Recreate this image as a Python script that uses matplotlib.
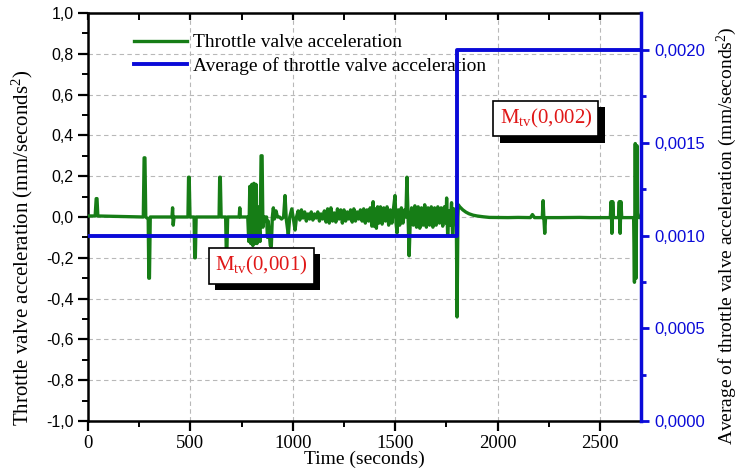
import matplotlib
matplotlib.use("Agg")
import matplotlib.pyplot as plt
import matplotlib.patheffects as pe
from matplotlib.ticker import FuncFormatter, MultipleLocator

plt.rcParams["font.family"] = ["Liberation Serif", "DejaVu Serif"]
plt.rcParams["mathtext.fontset"] = "custom"
plt.rcParams["mathtext.rm"] = "Liberation Serif"
plt.rcParams["mathtext.it"] = "Liberation Serif:italic"

# Throttle valve acceleration (mm/s^2) against time (s)
time_s = [
    0, 35, 40, 44, 48, 270, 274, 278, 282, 294, 297, 300, 304,
    410, 413, 416, 420, 488, 491, 494, 498, 518, 521, 524, 528,
    640, 643, 646, 650, 672, 675, 678, 682, 738, 741, 744, 780,
    785, 790, 795, 800, 805, 810, 815, 820, 825, 830, 840, 845, 850, 854, 860,
    872, 876, 880, 890, 895, 900, 905, 910, 918, 925, 935, 945, 955,
    962, 968, 978, 985, 995, 1003, 1011, 1018, 1026, 1034, 1042, 1050,
    1058, 1066, 1074, 1082, 1090, 1098, 1106, 1114, 1122, 1130, 1138, 1146,
    1154, 1162, 1170, 1178, 1186, 1194, 1202, 1210, 1218, 1226, 1234, 1242,
    1250, 1258, 1266, 1274, 1282, 1290, 1298, 1306, 1314, 1322, 1330, 1338,
    1346, 1354, 1362, 1370, 1378, 1386, 1392, 1397, 1402, 1408, 1414, 1420,
    1428, 1436, 1444, 1452, 1460, 1468, 1476, 1484, 1492, 1499, 1504, 1509,
    1515, 1522, 1530, 1538, 1546, 1552, 1557, 1562, 1568, 1573, 1580, 1588,
    1596, 1604, 1612, 1620, 1628, 1636, 1644, 1652, 1660, 1668, 1676, 1684,
    1692, 1700, 1708, 1716, 1724, 1732, 1740, 1748, 1751, 1756, 1762, 1768,
    1775, 1780, 1786, 1792, 1798, 1802, 1806, 1808, 1815, 1830, 1845, 1860,
    1880, 1900, 1930, 1960, 2050, 2100, 2160, 2170, 2180, 2218, 2222, 2226,
    2230, 2234, 2300, 2400, 2450, 2550, 2554, 2558, 2562, 2566, 2590, 2594,
    2598, 2602, 2606, 2664, 2668, 2672, 2676, 2680, 2684, 2690, 2700,
]
accel = [
    0.005, 0.005, 0.09, 0.09, 0.005, 0.0, 0.29, 0.29, 0.0, -0.01, -0.30, -0.30, 0.0,
    0.0, 0.045, -0.04, 0.0, 0.0, 0.195, 0.195, 0.0, 0.0, -0.2, -0.2, 0.0,
    0.0, 0.195, 0.195, 0.0, 0.0, -0.16, -0.17, 0.0, 0.0, 0.045, 0.0, 0.0,
    -0.12, 0.15, -0.13, 0.16, -0.14, 0.165, -0.13, 0.16, -0.13, 0.05, -0.12, 0.30, 0.30, -0.05, 0.0,
    0.0, -0.10, -0.02, -0.14, -0.145, 0.0, 0.045, -0.01, 0.03, 0.0, 0.0, -0.01, 0.0,
    0.105, -0.01, -0.088, 0.0, 0.04, -0.01, -0.064, 0.0, 0.03, -0.015, 0.035, -0.005,
    0.025, -0.02, 0.015, -0.01, 0.025, -0.015, 0.015, -0.005, 0.025, -0.02, 0.015, -0.01,
    0.03, -0.025, 0.04, -0.03, 0.045, -0.02, 0.02, -0.025, 0.04, -0.01, 0.035, -0.03,
    0.035, -0.02, 0.025, -0.01, 0.035, -0.025, 0.04, -0.02, 0.025, -0.01, 0.035, -0.02,
    0.04, -0.03, 0.035, -0.02, 0.045, -0.045, 0.075, -0.045, 0.04, -0.055, 0.05, -0.03,
    0.05, -0.035, 0.045, -0.02, 0.05, -0.04, 0.035, -0.03, 0.045, 0.105, -0.03, -0.078,
    0.035, -0.04, 0.045, -0.03, 0.035, 0.0, 0.195, 0.03, -0.19, -0.03, 0.045, -0.04,
    0.055, -0.05, 0.05, -0.055, 0.045, -0.04, 0.06, -0.05, 0.045, -0.04, 0.05, -0.05,
    0.045, -0.04, 0.05, -0.03, 0.045, -0.045, 0.05, -0.03, 0.093, -0.088, 0.03, -0.04,
    0.07, -0.088, 0.04, -0.03, 0.03, -0.49, 0.0, 0.06, 0.05, 0.035, 0.024, 0.016,
    0.009, 0.005, 0.001, -0.002, -0.003, -0.002, -0.003, 0.012, -0.003, -0.003, 0.08, -0.01,
    -0.08, -0.003, -0.003, -0.002, -0.003, -0.003, 0.075, -0.08, 0.075, -0.003, -0.003, 0.075,
    -0.08, 0.075, -0.003, -0.003, -0.32, 0.36, -0.3, 0.35, 0.02, -0.003, -0.003,
]

# Average of throttle valve acceleration per driving segment
avg_time_s = [0, 1800, 2700]
avg_accel = [0.001, 0.002, 0.002]

green = "#167d16"
blue = "#0a0ad8"
red = "#e01818"
sans = ["Liberation Sans", "DejaVu Sans"]

fig = plt.figure(figsize=(7.39, 4.73), dpi=100)
ax = fig.add_axes([88 / 739, 1 - 421 / 473, (641 - 88) / 739, (421 - 13) / 473])
ax2 = ax.twinx()

ln1, = ax.plot(time_s, accel, color=green, lw=2.4, zorder=3,
               label="Throttle valve acceleration")
ln2, = ax2.plot(avg_time_s, avg_accel, color=blue, lw=2.8, drawstyle="steps-post",
                zorder=3, label="Average of throttle valve acceleration")

ax.set_xlim(0, 2700)
ax.set_ylim(-1.0, 1.0)
ax2.set_ylim(0, 0.0022)

ax.xaxis.set_major_locator(MultipleLocator(500))
ax.xaxis.set_minor_locator(MultipleLocator(250))
ax.yaxis.set_major_locator(MultipleLocator(0.2))
ax.yaxis.set_minor_locator(MultipleLocator(0.1))
ax2.yaxis.set_major_locator(MultipleLocator(0.0005))
ax2.yaxis.set_minor_locator(MultipleLocator(0.00025))

ax.yaxis.set_major_formatter(FuncFormatter(lambda v, p: f"{v:.1f}".replace(".", ",")))
ax2.yaxis.set_major_formatter(FuncFormatter(lambda v, p: f"{v:.4f}".replace(".", ",")))
ax.xaxis.set_major_formatter(FuncFormatter(lambda v, p: f"{v:.0f}"))

ax.grid(True, which="major", color="#b8b8b8", ls=(0, (4, 3)), lw=0.8)
ax.set_axisbelow(True)

for s in ("left", "bottom", "top"):
    ax.spines[s].set_linewidth(1.8)
ax.spines["right"].set_visible(False)
for s in ("left", "bottom", "top"):
    ax2.spines[s].set_visible(False)
ax2.spines["right"].set_color(blue)
ax2.spines["right"].set_linewidth(2.5)

ax.tick_params(axis="both", which="major", direction="out", length=7, width=1.6, pad=3)
ax.tick_params(axis="both", which="minor", direction="out", length=4.3, width=1.4)
ax.tick_params(axis="x", which="major", labelsize=13.5)
ax.tick_params(axis="y", which="major", labelsize=11.5, pad=3.5)
ax.tick_params(axis="x", which="both", top=True, labeltop=False)
ax.tick_params(axis="y", which="both", right=False)
ax2.tick_params(axis="y", which="major", direction="out", length=5.5, width=2,
                colors=blue, labelsize=12, pad=4)
ax2.tick_params(axis="y", which="minor", direction="out", length=3.6, width=2, colors=blue)
for lbl in ax.get_yticklabels() + ax2.get_yticklabels():
    lbl.set_family(sans)
# ticks on the top edge point inward
for t in ax.xaxis.get_major_ticks() + ax.xaxis.get_minor_ticks():
    t.tick2line.set_marker(3)
    t.tick2line.set_markersize(5)

ax.set_xlabel("Time (seconds)", fontsize=14, labelpad=-1)
ax.set_ylabel("Throttle valve acceleration (mm/seconds$^2$)", fontsize=15)
ax.yaxis.set_label_coords(-0.095, 0.424)
ax2.set_ylabel("Average of throttle valve acceleration (mm/seconds$^2$)", fontsize=14,
               color="black")
ax2.yaxis.set_label_coords(1.134, 0.453)

ax.legend([ln1, ln2], [ln1.get_label(), ln2.get_label()], loc="upper left",
          bbox_to_anchor=(0.07, 0.968), frameon=False, fontsize=14,
          handlelength=2.7, handletextpad=0.3, labelspacing=0.3, borderaxespad=0)

shadow = [pe.withSimplePatchShadow(offset=(4.5, -4.5), shadow_rgbFace="black", alpha=1.0)]
for x, y, s in [(845, 0.000837, r"M$_{\mathrm{tv}}$(0,001)"),
                (2236, 0.00163, r"M$_{\mathrm{tv}}$(0,002)")]:
    t = ax2.text(x, y, s, color=red, fontsize=15, ha="center", va="center", zorder=10,
                 bbox=dict(boxstyle="square,pad=0.3", fc="white", ec="black", lw=1.2))
    t.get_bbox_patch().set_path_effects(shadow)

fig.savefig("out.png", dpi=100)
